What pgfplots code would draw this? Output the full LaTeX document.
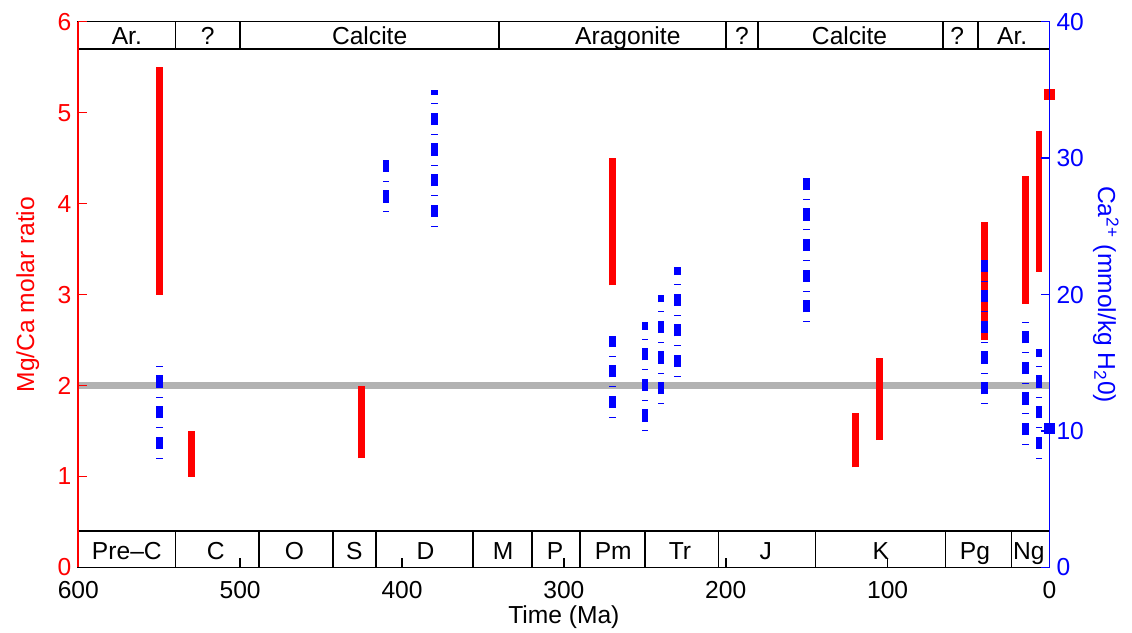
\documentclass[border=0pt]{standalone}
\usepackage{fontspec}
\setmainfont{Liberation Sans}
\usepackage{pgfplots}
\pgfplotsset{compat=1.18}

\definecolor{refline}{gray}{0.70}

\pgfplotsset{
  timeaxis/.style={
    scale only axis, width=485.6pt, height=272.9pt,
    xmin=0, xmax=600, x dir=reverse,
    clip=false,
    tick align=inside, major tick length=4.5pt,
    /pgf/number format/assume math mode=true,
  },
}
\tikzset{band/.style={line width=0.8pt, black}}

\begin{document}
\begin{tikzpicture}[font=\fontsize{12.3pt}{14pt}\selectfont]

% ---------------- left axis: Mg/Ca molar ratio ----------------
\begin{axis}[timeaxis,
  ymin=0, ymax=6,
  axis y line*=left, axis x line*=bottom,
  tick align=inside,
  axis on top,
  xtick={0,100,...,600}, ytick={0,1,...,6},
  x axis line style={black, line width=0.8pt},
  y axis line style={red, line width=0.8pt},
  xtick style={black, line width=0.8pt},
  ytick style={red, line width=0.8pt},
  yticklabel style={red},
  xticklabel style={anchor=base, yshift=-15.75pt},
  xlabel={Time (Ma)},
  xlabel style={at={(axis description cs:0.5,-0.1035)}, anchor=base},
  ylabel={Mg/Ca molar ratio},
  ylabel style={red, at={(axis description cs:-0.052,0.5)}, anchor=center},
]
% modern seawater reference level
\addplot[refline, line width=3.15pt] coordinates {(600,2) (0,2)};

% Mg/Ca ranges
\addplot[red, line width=3.35pt, unbounded coords=jump] coordinates {
  (550,3.0) (550,5.5) (540,nan)
  (530,1.0) (530,1.5) (520,nan)
  (425,1.2) (425,2.0) (415,nan)
  (270,3.1) (270,4.5) (260,nan)
  (120,1.1) (120,1.7) (110,nan)
  (105,1.4) (105,2.3) (100,nan)
  (40,2.5)  (40,3.8)  (30,nan)
  (15,2.9)  (15,4.3)  (10,nan)
  (6.5,3.25) (6.5,4.8)
};
% present-day value
\addplot[only marks, mark=square*, mark size=2.5pt,
  mark options={draw=red, fill=red, line width=0pt}] coordinates {(0,5.2)};

% mineralogy band
\draw[band] (axis cs:600,5.7) rectangle (axis cs:0,6);
\pgfplotsinvokeforeach{540,500,340,200,180,65.8,44.3}{
  \draw[band] (axis cs:#1,5.7) -- (axis cs:#1,6);
}
\node[anchor=base] at (axis cs:570,5.75) {Ar.};
\node[anchor=base] at (axis cs:520,5.75) {?};
\node[anchor=base] at (axis cs:420,5.75) {Calcite};
\node[anchor=base] at (axis cs:260.5,5.75) {Aragonite};
\node[anchor=base] at (axis cs:190,5.75) {?};
\node[anchor=base] at (axis cs:123.5,5.75) {Calcite};
\node[anchor=base] at (axis cs:57,5.75) {?};
\node[anchor=base] at (axis cs:23,5.75) {Ar.};

% geological periods band
\draw[band] (axis cs:600,0) rectangle (axis cs:0,0.4);
\pgfplotsinvokeforeach{540,488.5,442.5,416,356,319.7,290,250,204.4,144.6,64.3,23.5}{
  \draw[band] (axis cs:#1,0) -- (axis cs:#1,0.4);
}
\node[anchor=base] at (axis cs:570,0.09) {Pre–C};
\node[anchor=base] at (axis cs:515,0.09) {C};
\node[anchor=base] at (axis cs:466.5,0.09) {O};
\node[anchor=base] at (axis cs:429.4,0.09) {S};
\node[anchor=base] at (axis cs:385.5,0.09) {D};
\node[anchor=base] at (axis cs:337.5,0.09) {M};
\node[anchor=base] at (axis cs:305.5,0.09) {P};
\node[anchor=base] at (axis cs:269.5,0.09) {Pm};
\node[anchor=base] at (axis cs:228.3,0.09) {Tr};
\node[anchor=base] at (axis cs:175.3,0.09) {J};
\node[anchor=base] at (axis cs:104.2,0.09) {K};
\node[anchor=base] at (axis cs:46,0.09) {Pg};
\node[anchor=base] at (axis cs:12.8,0.09) {Ng};
\end{axis}

% ---------------- right axis: Ca concentration ----------------
\begin{axis}[timeaxis,
  ymin=0, ymax=40,
  axis x line=none, axis y line*=right,
  tick align=inside,
  ytick={0,10,...,40},
  y axis line style={blue, line width=0.8pt},
  ytick style={blue, line width=0.8pt},
  yticklabel style={blue},
  ylabel={Ca\textsuperscript{2+} (mmol/kg H\textsubscript{2}0)},
  ylabel style={blue, at={(axis description cs:1.058,0.5)}, anchor=center, rotate=180},
]
% Ca2+ ranges, each drawn upward from its lower bound
\addplot[blue, line width=3.3pt, unbounded coords=jump,
  dash pattern=on 0.3pt off 4.425pt on 6.15pt off 4.425pt] coordinates {
  (550,8.0)  (550,14.8) (540,nan)
  (410,26.05) (410,30.5) (400,nan)
  (380,25.0) (380,35.0) (370,nan)
  (270,11.0) (270,17.0) (260,nan)
  (250,10.0) (250,18.0) (245,nan)
  (240,12.0) (240,20.0) (235,nan)
  (230,14.0) (230,22.0) (220,nan)
  (150,18.0) (150,28.6) (140,nan)
  (40,12.0)  (40,22.5)  (30,nan)
  (15,9.0)   (15,18.0)  (10,nan)
  (6.5,8.0)  (6.5,16.0)
};
% present-day value
\addplot[only marks, mark=square*, mark size=2.5pt,
  mark options={draw=blue, fill=blue, line width=0pt}] coordinates {(0,10.2)};

\coordinate (ll) at (axis description cs:0,0);
\coordinate (ur) at (axis description cs:1,1);
\end{axis}

\pgfresetboundingbox
\path[use as bounding box] ([shift={(-39.15pt,-32.75pt)}]ll) rectangle ([shift={(41.25pt,10.85pt)}]ur);
\end{tikzpicture}
\end{document}
